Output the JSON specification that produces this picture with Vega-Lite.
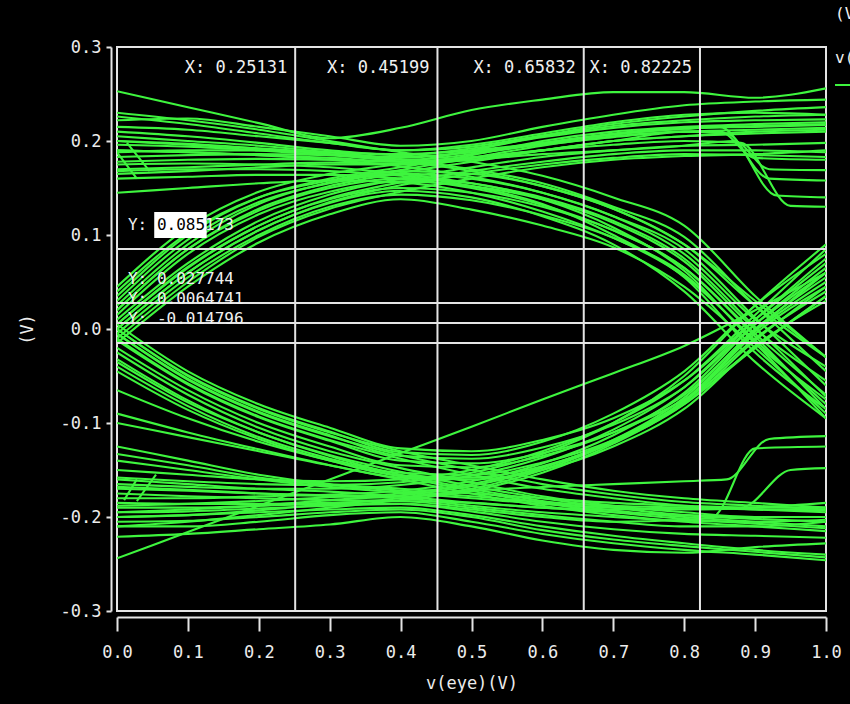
{
  "$schema": "https://vega.github.io/schema/vega-lite/v6.json",
  "width": 709,
  "height": 564,
  "autosize": {"type": "none"},
  "padding": {"left": 117, "top": 47, "right": 24, "bottom": 93},
  "background": "#000000",
  "config": {
    "view": {"stroke": "#e4e4e4", "strokeWidth": 2},
    "font": "DejaVu Sans Mono",
    "axis": {"grid": false, "domainColor": "#e4e4e4", "domainWidth": 2, "tickColor": "#e4e4e4", "tickWidth": 2, "labelColor": "#ececec", "labelFont": "DejaVu Sans Mono", "labelFontSize": 17, "titleColor": "#ececec", "titleFont": "DejaVu Sans Mono", "titleFontSize": 17, "titleFontWeight": "normal"}
  },
  "datasets": {
    "traces": [
      {"t":"A1","x":0,"y":0.253},{"t":"A1","x":0.1,"y":0.236},{"t":"A1","x":0.2,"y":0.219},{"t":"A1","x":0.3,"y":0.203},{"t":"A1","x":0.4,"y":0.214},{"t":"A1","x":0.5,"y":0.233},{"t":"A1","x":0.6,"y":0.244},{"t":"A1","x":0.7,"y":0.252},{"t":"A1","x":0.8,"y":0.252},{"t":"A1","x":0.9,"y":0.246},{"t":"A1","x":1,"y":0.256},
      {"t":"A2","x":0,"y":0.222},{"t":"A2","x":0.1,"y":0.224},{"t":"A2","x":0.2,"y":0.215},{"t":"A2","x":0.3,"y":0.205},{"t":"A2","x":0.4,"y":0.195},{"t":"A2","x":0.5,"y":0.2},{"t":"A2","x":0.6,"y":0.215},{"t":"A2","x":0.7,"y":0.228},{"t":"A2","x":0.8,"y":0.238},{"t":"A2","x":0.9,"y":0.242},{"t":"A2","x":1,"y":0.244},
      {"t":"A3","x":0,"y":0.215},{"t":"A3","x":0.1,"y":0.212},{"t":"A3","x":0.2,"y":0.205},{"t":"A3","x":0.3,"y":0.198},{"t":"A3","x":0.4,"y":0.19},{"t":"A3","x":0.5,"y":0.196},{"t":"A3","x":0.6,"y":0.208},{"t":"A3","x":0.7,"y":0.22},{"t":"A3","x":0.8,"y":0.228},{"t":"A3","x":0.9,"y":0.23},{"t":"A3","x":1,"y":0.228},
      {"t":"A4","x":0,"y":0.21},{"t":"A4","x":0.1,"y":0.205},{"t":"A4","x":0.2,"y":0.198},{"t":"A4","x":0.3,"y":0.19},{"t":"A4","x":0.4,"y":0.185},{"t":"A4","x":0.5,"y":0.192},{"t":"A4","x":0.6,"y":0.204},{"t":"A4","x":0.7,"y":0.214},{"t":"A4","x":0.8,"y":0.22},{"t":"A4","x":0.9,"y":0.222},{"t":"A4","x":1,"y":0.223},
      {"t":"A5","x":0,"y":0.2},{"t":"A5","x":0.1,"y":0.196},{"t":"A5","x":0.2,"y":0.192},{"t":"A5","x":0.3,"y":0.188},{"t":"A5","x":0.4,"y":0.182},{"t":"A5","x":0.5,"y":0.188},{"t":"A5","x":0.6,"y":0.198},{"t":"A5","x":0.7,"y":0.208},{"t":"A5","x":0.8,"y":0.214},{"t":"A5","x":0.9,"y":0.215},{"t":"A5","x":1,"y":0.217},
      {"t":"A6","x":0,"y":0.183},{"t":"A6","x":0.1,"y":0.185},{"t":"A6","x":0.2,"y":0.186},{"t":"A6","x":0.3,"y":0.185},{"t":"A6","x":0.4,"y":0.183},{"t":"A6","x":0.5,"y":0.188},{"t":"A6","x":0.6,"y":0.196},{"t":"A6","x":0.7,"y":0.204},{"t":"A6","x":0.8,"y":0.21},{"t":"A6","x":0.86,"y":0.208},{"t":"A6","x":0.93,"y":0.142},{"t":"A6","x":1,"y":0.14},
      {"t":"A7","x":0,"y":0.178},{"t":"A7","x":0.1,"y":0.18},{"t":"A7","x":0.2,"y":0.181},{"t":"A7","x":0.3,"y":0.18},{"t":"A7","x":0.4,"y":0.178},{"t":"A7","x":0.5,"y":0.183},{"t":"A7","x":0.6,"y":0.19},{"t":"A7","x":0.7,"y":0.196},{"t":"A7","x":0.8,"y":0.2},{"t":"A7","x":0.88,"y":0.198},{"t":"A7","x":0.95,"y":0.131},{"t":"A7","x":1,"y":0.13},
      {"t":"A8","x":0,"y":0.17},{"t":"A8","x":0.1,"y":0.172},{"t":"A8","x":0.2,"y":0.175},{"t":"A8","x":0.3,"y":0.177},{"t":"A8","x":0.4,"y":0.176},{"t":"A8","x":0.5,"y":0.18},{"t":"A8","x":0.6,"y":0.186},{"t":"A8","x":0.7,"y":0.19},{"t":"A8","x":0.8,"y":0.195},{"t":"A8","x":0.87,"y":0.2},{"t":"A8","x":0.92,"y":0.17},{"t":"A8","x":1,"y":0.169},
      {"t":"A9","x":0,"y":0.19},{"t":"A9","x":0.1,"y":0.188},{"t":"A9","x":0.2,"y":0.185},{"t":"A9","x":0.3,"y":0.182},{"t":"A9","x":0.4,"y":0.178},{"t":"A9","x":0.5,"y":0.182},{"t":"A9","x":0.6,"y":0.19},{"t":"A9","x":0.7,"y":0.2},{"t":"A9","x":0.8,"y":0.205},{"t":"A9","x":0.9,"y":0.21},{"t":"A9","x":1,"y":0.212},
      {"t":"A10","x":0,"y":0.165},{"t":"A10","x":0.1,"y":0.168},{"t":"A10","x":0.2,"y":0.172},{"t":"A10","x":0.3,"y":0.175},{"t":"A10","x":0.4,"y":0.175},{"t":"A10","x":0.5,"y":0.18},{"t":"A10","x":0.6,"y":0.19},{"t":"A10","x":0.7,"y":0.2},{"t":"A10","x":0.8,"y":0.21},{"t":"A10","x":0.85,"y":0.21},{"t":"A10","x":0.9,"y":0.182},{"t":"A10","x":1,"y":0.18},
      {"t":"A11","x":0,"y":0.226},{"t":"A11","x":0.1,"y":0.218},{"t":"A11","x":0.2,"y":0.208},{"t":"A11","x":0.3,"y":0.198},{"t":"A11","x":0.4,"y":0.19},{"t":"A11","x":0.5,"y":0.194},{"t":"A11","x":0.6,"y":0.206},{"t":"A11","x":0.7,"y":0.218},{"t":"A11","x":0.8,"y":0.226},{"t":"A11","x":0.9,"y":0.232},{"t":"A11","x":1,"y":0.236},
      {"t":"A12","x":0,"y":0.188},{"t":"A12","x":0.1,"y":0.19},{"t":"A12","x":0.2,"y":0.19},{"t":"A12","x":0.3,"y":0.188},{"t":"A12","x":0.4,"y":0.186},{"t":"A12","x":0.5,"y":0.19},{"t":"A12","x":0.6,"y":0.198},{"t":"A12","x":0.7,"y":0.207},{"t":"A12","x":0.8,"y":0.213},{"t":"A12","x":0.9,"y":0.216},{"t":"A12","x":1,"y":0.218},
      {"t":"A13","x":0,"y":0.196},{"t":"A13","x":0.1,"y":0.194},{"t":"A13","x":0.2,"y":0.19},{"t":"A13","x":0.3,"y":0.185},{"t":"A13","x":0.4,"y":0.18},{"t":"A13","x":0.5,"y":0.186},{"t":"A13","x":0.6,"y":0.197},{"t":"A13","x":0.7,"y":0.207},{"t":"A13","x":0.8,"y":0.213},{"t":"A13","x":0.85,"y":0.215},{"t":"A13","x":0.92,"y":0.16},{"t":"A13","x":1,"y":0.158},
      {"t":"B1","x":0,"y":0.23},{"t":"B1","x":0.1,"y":0.222},{"t":"B1","x":0.2,"y":0.212},{"t":"B1","x":0.3,"y":0.2},{"t":"B1","x":0.4,"y":0.188},{"t":"B1","x":0.5,"y":0.178},{"t":"B1","x":0.6,"y":0.163},{"t":"B1","x":0.7,"y":0.14},{"t":"B1","x":0.8,"y":0.11},{"t":"B1","x":0.9,"y":0.035},{"t":"B1","x":1,"y":-0.03},
      {"t":"B2","x":0,"y":0.205},{"t":"B2","x":0.1,"y":0.2},{"t":"B2","x":0.2,"y":0.195},{"t":"B2","x":0.3,"y":0.188},{"t":"B2","x":0.4,"y":0.18},{"t":"B2","x":0.5,"y":0.17},{"t":"B2","x":0.6,"y":0.155},{"t":"B2","x":0.7,"y":0.13},{"t":"B2","x":0.8,"y":0.098},{"t":"B2","x":0.9,"y":0.025},{"t":"B2","x":1,"y":-0.045},
      {"t":"B3","x":0,"y":0.19},{"t":"B3","x":0.1,"y":0.188},{"t":"B3","x":0.2,"y":0.185},{"t":"B3","x":0.3,"y":0.18},{"t":"B3","x":0.4,"y":0.173},{"t":"B3","x":0.5,"y":0.162},{"t":"B3","x":0.6,"y":0.145},{"t":"B3","x":0.7,"y":0.12},{"t":"B3","x":0.8,"y":0.085},{"t":"B3","x":0.9,"y":0.012},{"t":"B3","x":1,"y":-0.06},
      {"t":"B4","x":0,"y":0.175},{"t":"B4","x":0.1,"y":0.176},{"t":"B4","x":0.2,"y":0.175},{"t":"B4","x":0.3,"y":0.172},{"t":"B4","x":0.4,"y":0.165},{"t":"B4","x":0.5,"y":0.155},{"t":"B4","x":0.6,"y":0.14},{"t":"B4","x":0.7,"y":0.115},{"t":"B4","x":0.8,"y":0.075},{"t":"B4","x":0.9,"y":0.002},{"t":"B4","x":1,"y":-0.072},
      {"t":"B5","x":0,"y":0.16},{"t":"B5","x":0.1,"y":0.162},{"t":"B5","x":0.2,"y":0.164},{"t":"B5","x":0.3,"y":0.164},{"t":"B5","x":0.4,"y":0.16},{"t":"B5","x":0.5,"y":0.15},{"t":"B5","x":0.6,"y":0.132},{"t":"B5","x":0.7,"y":0.105},{"t":"B5","x":0.8,"y":0.065},{"t":"B5","x":0.9,"y":-0.008},{"t":"B5","x":1,"y":-0.085},
      {"t":"B6","x":0,"y":0.145},{"t":"B6","x":0.1,"y":0.15},{"t":"B6","x":0.2,"y":0.155},{"t":"B6","x":0.3,"y":0.158},{"t":"B6","x":0.4,"y":0.156},{"t":"B6","x":0.5,"y":0.145},{"t":"B6","x":0.6,"y":0.125},{"t":"B6","x":0.7,"y":0.097},{"t":"B6","x":0.8,"y":0.058},{"t":"B6","x":0.9,"y":-0.015},{"t":"B6","x":1,"y":-0.095},
      {"t":"B7","x":0,"y":0.2},{"t":"B7","x":0.1,"y":0.197},{"t":"B7","x":0.2,"y":0.192},{"t":"B7","x":0.3,"y":0.186},{"t":"B7","x":0.4,"y":0.178},{"t":"B7","x":0.5,"y":0.168},{"t":"B7","x":0.6,"y":0.152},{"t":"B7","x":0.7,"y":0.128},{"t":"B7","x":0.8,"y":0.09},{"t":"B7","x":0.9,"y":0.03},{"t":"B7","x":1,"y":-0.03},
      {"t":"B8","x":0,"y":0.168},{"t":"B8","x":0.1,"y":0.17},{"t":"B8","x":0.2,"y":0.17},{"t":"B8","x":0.3,"y":0.168},{"t":"B8","x":0.4,"y":0.163},{"t":"B8","x":0.5,"y":0.152},{"t":"B8","x":0.6,"y":0.133},{"t":"B8","x":0.7,"y":0.1},{"t":"B8","x":0.8,"y":0.055},{"t":"B8","x":0.9,"y":-0.025},{"t":"B8","x":1,"y":-0.085},
      {"t":"C1","x":0,"y":0.035},{"t":"C1","x":0.1,"y":0.1},{"t":"C1","x":0.2,"y":0.14},{"t":"C1","x":0.3,"y":0.16},{"t":"C1","x":0.4,"y":0.172},{"t":"C1","x":0.5,"y":0.185},{"t":"C1","x":0.6,"y":0.2},{"t":"C1","x":0.7,"y":0.21},{"t":"C1","x":0.8,"y":0.215},{"t":"C1","x":0.9,"y":0.218},{"t":"C1","x":1,"y":0.22},
      {"t":"C2","x":0,"y":0.02},{"t":"C2","x":0.1,"y":0.085},{"t":"C2","x":0.2,"y":0.128},{"t":"C2","x":0.3,"y":0.152},{"t":"C2","x":0.4,"y":0.166},{"t":"C2","x":0.5,"y":0.178},{"t":"C2","x":0.6,"y":0.19},{"t":"C2","x":0.7,"y":0.2},{"t":"C2","x":0.8,"y":0.205},{"t":"C2","x":0.9,"y":0.208},{"t":"C2","x":1,"y":0.21},
      {"t":"C3","x":0,"y":0.01},{"t":"C3","x":0.1,"y":0.07},{"t":"C3","x":0.2,"y":0.115},{"t":"C3","x":0.3,"y":0.143},{"t":"C3","x":0.4,"y":0.16},{"t":"C3","x":0.5,"y":0.172},{"t":"C3","x":0.6,"y":0.183},{"t":"C3","x":0.7,"y":0.19},{"t":"C3","x":0.8,"y":0.195},{"t":"C3","x":0.9,"y":0.196},{"t":"C3","x":1,"y":0.198},
      {"t":"C4","x":0,"y":0.0},{"t":"C4","x":0.1,"y":0.06},{"t":"C4","x":0.2,"y":0.105},{"t":"C4","x":0.3,"y":0.135},{"t":"C4","x":0.4,"y":0.153},{"t":"C4","x":0.5,"y":0.165},{"t":"C4","x":0.6,"y":0.175},{"t":"C4","x":0.7,"y":0.182},{"t":"C4","x":0.8,"y":0.186},{"t":"C4","x":0.9,"y":0.185},{"t":"C4","x":1,"y":0.183},
      {"t":"C5","x":0,"y":-0.01},{"t":"C5","x":0.1,"y":0.05},{"t":"C5","x":0.2,"y":0.098},{"t":"C5","x":0.3,"y":0.128},{"t":"C5","x":0.4,"y":0.146},{"t":"C5","x":0.5,"y":0.16},{"t":"C5","x":0.6,"y":0.172},{"t":"C5","x":0.7,"y":0.18},{"t":"C5","x":0.8,"y":0.184},{"t":"C5","x":0.9,"y":0.186},{"t":"C5","x":1,"y":0.19},
      {"t":"C6","x":0,"y":0.045},{"t":"C6","x":0.1,"y":0.108},{"t":"C6","x":0.2,"y":0.146},{"t":"C6","x":0.3,"y":0.165},{"t":"C6","x":0.4,"y":0.176},{"t":"C6","x":0.5,"y":0.19},{"t":"C6","x":0.6,"y":0.205},{"t":"C6","x":0.7,"y":0.216},{"t":"C6","x":0.8,"y":0.222},{"t":"C6","x":0.9,"y":0.226},{"t":"C6","x":1,"y":0.228},
      {"t":"C7","x":0,"y":0.025},{"t":"C7","x":0.1,"y":0.09},{"t":"C7","x":0.2,"y":0.133},{"t":"C7","x":0.3,"y":0.156},{"t":"C7","x":0.4,"y":0.169},{"t":"C7","x":0.5,"y":0.182},{"t":"C7","x":0.6,"y":0.195},{"t":"C7","x":0.7,"y":0.205},{"t":"C7","x":0.8,"y":0.21},{"t":"C7","x":0.9,"y":0.212},{"t":"C7","x":1,"y":0.214},
      {"t":"C8","x":0,"y":0.005},{"t":"C8","x":0.1,"y":0.066},{"t":"C8","x":0.2,"y":0.11},{"t":"C8","x":0.3,"y":0.139},{"t":"C8","x":0.4,"y":0.156},{"t":"C8","x":0.5,"y":0.168},{"t":"C8","x":0.6,"y":0.178},{"t":"C8","x":0.7,"y":0.186},{"t":"C8","x":0.8,"y":0.19},{"t":"C8","x":0.9,"y":0.19},{"t":"C8","x":1,"y":0.188},
      {"t":"D1","x":0,"y":0.03},{"t":"D1","x":0.1,"y":0.095},{"t":"D1","x":0.2,"y":0.135},{"t":"D1","x":0.3,"y":0.155},{"t":"D1","x":0.4,"y":0.165},{"t":"D1","x":0.5,"y":0.16},{"t":"D1","x":0.6,"y":0.145},{"t":"D1","x":0.7,"y":0.12},{"t":"D1","x":0.8,"y":0.08},{"t":"D1","x":0.9,"y":0.01},{"t":"D1","x":1,"y":-0.04},
      {"t":"D2","x":0,"y":0.015},{"t":"D2","x":0.1,"y":0.08},{"t":"D2","x":0.2,"y":0.122},{"t":"D2","x":0.3,"y":0.146},{"t":"D2","x":0.4,"y":0.157},{"t":"D2","x":0.5,"y":0.152},{"t":"D2","x":0.6,"y":0.138},{"t":"D2","x":0.7,"y":0.113},{"t":"D2","x":0.8,"y":0.072},{"t":"D2","x":0.9,"y":0.0},{"t":"D2","x":1,"y":-0.055},
      {"t":"D3","x":0,"y":0.005},{"t":"D3","x":0.1,"y":0.065},{"t":"D3","x":0.2,"y":0.11},{"t":"D3","x":0.3,"y":0.138},{"t":"D3","x":0.4,"y":0.15},{"t":"D3","x":0.5,"y":0.145},{"t":"D3","x":0.6,"y":0.13},{"t":"D3","x":0.7,"y":0.105},{"t":"D3","x":0.8,"y":0.065},{"t":"D3","x":0.9,"y":-0.005},{"t":"D3","x":1,"y":-0.07},
      {"t":"D4","x":0,"y":-0.005},{"t":"D4","x":0.1,"y":0.055},{"t":"D4","x":0.2,"y":0.1},{"t":"D4","x":0.3,"y":0.13},{"t":"D4","x":0.4,"y":0.143},{"t":"D4","x":0.5,"y":0.137},{"t":"D4","x":0.6,"y":0.121},{"t":"D4","x":0.7,"y":0.097},{"t":"D4","x":0.8,"y":0.056},{"t":"D4","x":0.9,"y":-0.012},{"t":"D4","x":1,"y":-0.08},
      {"t":"D5","x":0,"y":-0.015},{"t":"D5","x":0.1,"y":0.045},{"t":"D5","x":0.2,"y":0.092},{"t":"D5","x":0.3,"y":0.122},{"t":"D5","x":0.4,"y":0.138},{"t":"D5","x":0.5,"y":0.127},{"t":"D5","x":0.6,"y":0.11},{"t":"D5","x":0.7,"y":0.087},{"t":"D5","x":0.8,"y":0.045},{"t":"D5","x":0.9,"y":-0.02},{"t":"D5","x":1,"y":-0.09},
      {"t":"D6","x":0,"y":0.04},{"t":"D6","x":0.1,"y":0.102},{"t":"D6","x":0.2,"y":0.14},{"t":"D6","x":0.3,"y":0.158},{"t":"D6","x":0.4,"y":0.168},{"t":"D6","x":0.5,"y":0.165},{"t":"D6","x":0.6,"y":0.152},{"t":"D6","x":0.7,"y":0.128},{"t":"D6","x":0.8,"y":0.09},{"t":"D6","x":0.9,"y":0.025},{"t":"D6","x":1,"y":-0.03},
      {"t":"D7","x":0,"y":0.02},{"t":"D7","x":0.1,"y":0.085},{"t":"D7","x":0.2,"y":0.126},{"t":"D7","x":0.3,"y":0.15},{"t":"D7","x":0.4,"y":0.16},{"t":"D7","x":0.5,"y":0.155},{"t":"D7","x":0.6,"y":0.138},{"t":"D7","x":0.7,"y":0.108},{"t":"D7","x":0.8,"y":0.062},{"t":"D7","x":0.9,"y":-0.015},{"t":"D7","x":1,"y":-0.075},
      {"t":"D8","x":0,"y":0.0},{"t":"D8","x":0.1,"y":0.06},{"t":"D8","x":0.2,"y":0.105},{"t":"D8","x":0.3,"y":0.134},{"t":"D8","x":0.4,"y":0.147},{"t":"D8","x":0.5,"y":0.14},{"t":"D8","x":0.6,"y":0.12},{"t":"D8","x":0.7,"y":0.09},{"t":"D8","x":0.8,"y":0.04},{"t":"D8","x":0.9,"y":-0.035},{"t":"D8","x":1,"y":-0.095},
      {"t":"E1","x":0,"y":0.0},{"t":"E1","x":0.1,"y":-0.05},{"t":"E1","x":0.2,"y":-0.085},{"t":"E1","x":0.3,"y":-0.11},{"t":"E1","x":0.4,"y":-0.13},{"t":"E1","x":0.5,"y":-0.145},{"t":"E1","x":0.6,"y":-0.16},{"t":"E1","x":0.7,"y":-0.172},{"t":"E1","x":0.8,"y":-0.18},{"t":"E1","x":0.9,"y":-0.185},{"t":"E1","x":1,"y":-0.19},
      {"t":"E2","x":0,"y":-0.01},{"t":"E2","x":0.1,"y":-0.058},{"t":"E2","x":0.2,"y":-0.093},{"t":"E2","x":0.3,"y":-0.118},{"t":"E2","x":0.4,"y":-0.138},{"t":"E2","x":0.5,"y":-0.155},{"t":"E2","x":0.6,"y":-0.17},{"t":"E2","x":0.7,"y":-0.18},{"t":"E2","x":0.8,"y":-0.188},{"t":"E2","x":0.9,"y":-0.192},{"t":"E2","x":1,"y":-0.195},
      {"t":"E3","x":0,"y":-0.025},{"t":"E3","x":0.1,"y":-0.07},{"t":"E3","x":0.2,"y":-0.105},{"t":"E3","x":0.3,"y":-0.13},{"t":"E3","x":0.4,"y":-0.148},{"t":"E3","x":0.5,"y":-0.163},{"t":"E3","x":0.6,"y":-0.178},{"t":"E3","x":0.7,"y":-0.188},{"t":"E3","x":0.8,"y":-0.195},{"t":"E3","x":0.9,"y":-0.2},{"t":"E3","x":1,"y":-0.2},
      {"t":"E4","x":0,"y":-0.04},{"t":"E4","x":0.1,"y":-0.082},{"t":"E4","x":0.2,"y":-0.115},{"t":"E4","x":0.3,"y":-0.138},{"t":"E4","x":0.4,"y":-0.155},{"t":"E4","x":0.5,"y":-0.17},{"t":"E4","x":0.6,"y":-0.183},{"t":"E4","x":0.7,"y":-0.193},{"t":"E4","x":0.8,"y":-0.2},{"t":"E4","x":0.9,"y":-0.205},{"t":"E4","x":1,"y":-0.21},
      {"t":"E5","x":0,"y":-0.09},{"t":"E5","x":0.1,"y":-0.11},{"t":"E5","x":0.2,"y":-0.128},{"t":"E5","x":0.3,"y":-0.145},{"t":"E5","x":0.4,"y":-0.16},{"t":"E5","x":0.5,"y":-0.175},{"t":"E5","x":0.6,"y":-0.188},{"t":"E5","x":0.7,"y":-0.198},{"t":"E5","x":0.8,"y":-0.205},{"t":"E5","x":0.9,"y":-0.21},{"t":"E5","x":1,"y":-0.215},
      {"t":"E6","x":0,"y":-0.005},{"t":"E6","x":0.1,"y":-0.054},{"t":"E6","x":0.2,"y":-0.089},{"t":"E6","x":0.3,"y":-0.114},{"t":"E6","x":0.4,"y":-0.134},{"t":"E6","x":0.5,"y":-0.15},{"t":"E6","x":0.6,"y":-0.165},{"t":"E6","x":0.7,"y":-0.176},{"t":"E6","x":0.8,"y":-0.184},{"t":"E6","x":0.9,"y":-0.188},{"t":"E6","x":1,"y":-0.192},
      {"t":"E7","x":0,"y":-0.032},{"t":"E7","x":0.1,"y":-0.076},{"t":"E7","x":0.2,"y":-0.11},{"t":"E7","x":0.3,"y":-0.134},{"t":"E7","x":0.4,"y":-0.152},{"t":"E7","x":0.5,"y":-0.167},{"t":"E7","x":0.6,"y":-0.18},{"t":"E7","x":0.7,"y":-0.19},{"t":"E7","x":0.8,"y":-0.198},{"t":"E7","x":0.9,"y":-0.202},{"t":"E7","x":1,"y":-0.205},
      {"t":"E8","x":0,"y":-0.065},{"t":"E8","x":0.1,"y":-0.095},{"t":"E8","x":0.2,"y":-0.12},{"t":"E8","x":0.3,"y":-0.14},{"t":"E8","x":0.4,"y":-0.157},{"t":"E8","x":0.5,"y":-0.172},{"t":"E8","x":0.6,"y":-0.185},{"t":"E8","x":0.7,"y":-0.195},{"t":"E8","x":0.8,"y":-0.202},{"t":"E8","x":0.9,"y":-0.207},{"t":"E8","x":1,"y":-0.212},
      {"t":"F1","x":0,"y":0.005},{"t":"F1","x":0.1,"y":-0.045},{"t":"F1","x":0.2,"y":-0.08},{"t":"F1","x":0.3,"y":-0.105},{"t":"F1","x":0.4,"y":-0.127},{"t":"F1","x":0.5,"y":-0.13},{"t":"F1","x":0.6,"y":-0.118},{"t":"F1","x":0.7,"y":-0.095},{"t":"F1","x":0.8,"y":-0.055},{"t":"F1","x":0.9,"y":0.01},{"t":"F1","x":1,"y":0.07},
      {"t":"F2","x":0,"y":-0.005},{"t":"F2","x":0.1,"y":-0.053},{"t":"F2","x":0.2,"y":-0.088},{"t":"F2","x":0.3,"y":-0.113},{"t":"F2","x":0.4,"y":-0.135},{"t":"F2","x":0.5,"y":-0.138},{"t":"F2","x":0.6,"y":-0.126},{"t":"F2","x":0.7,"y":-0.102},{"t":"F2","x":0.8,"y":-0.062},{"t":"F2","x":0.9,"y":0.005},{"t":"F2","x":1,"y":0.06},
      {"t":"F3","x":0,"y":-0.02},{"t":"F3","x":0.1,"y":-0.065},{"t":"F3","x":0.2,"y":-0.1},{"t":"F3","x":0.3,"y":-0.125},{"t":"F3","x":0.4,"y":-0.145},{"t":"F3","x":0.5,"y":-0.147},{"t":"F3","x":0.6,"y":-0.135},{"t":"F3","x":0.7,"y":-0.11},{"t":"F3","x":0.8,"y":-0.07},{"t":"F3","x":0.9,"y":-0.002},{"t":"F3","x":1,"y":0.05},
      {"t":"F4","x":0,"y":-0.035},{"t":"F4","x":0.1,"y":-0.078},{"t":"F4","x":0.2,"y":-0.11},{"t":"F4","x":0.3,"y":-0.135},{"t":"F4","x":0.4,"y":-0.153},{"t":"F4","x":0.5,"y":-0.155},{"t":"F4","x":0.6,"y":-0.142},{"t":"F4","x":0.7,"y":-0.118},{"t":"F4","x":0.8,"y":-0.077},{"t":"F4","x":0.9,"y":-0.01},{"t":"F4","x":1,"y":0.04},
      {"t":"F5","x":0,"y":-0.1},{"t":"F5","x":0.1,"y":-0.115},{"t":"F5","x":0.2,"y":-0.13},{"t":"F5","x":0.3,"y":-0.145},{"t":"F5","x":0.4,"y":-0.158},{"t":"F5","x":0.5,"y":-0.16},{"t":"F5","x":0.6,"y":-0.15},{"t":"F5","x":0.7,"y":-0.125},{"t":"F5","x":0.8,"y":-0.085},{"t":"F5","x":0.9,"y":-0.018},{"t":"F5","x":1,"y":0.03},
      {"t":"F6","x":0,"y":0.0},{"t":"F6","x":0.1,"y":-0.049},{"t":"F6","x":0.2,"y":-0.084},{"t":"F6","x":0.3,"y":-0.109},{"t":"F6","x":0.4,"y":-0.131},{"t":"F6","x":0.5,"y":-0.134},{"t":"F6","x":0.6,"y":-0.12},{"t":"F6","x":0.7,"y":-0.09},{"t":"F6","x":0.8,"y":-0.045},{"t":"F6","x":0.9,"y":0.025},{"t":"F6","x":1,"y":0.08},
      {"t":"F7","x":0,"y":-0.012},{"t":"F7","x":0.1,"y":-0.059},{"t":"F7","x":0.2,"y":-0.094},{"t":"F7","x":0.3,"y":-0.119},{"t":"F7","x":0.4,"y":-0.14},{"t":"F7","x":0.5,"y":-0.143},{"t":"F7","x":0.6,"y":-0.132},{"t":"F7","x":0.7,"y":-0.11},{"t":"F7","x":0.8,"y":-0.075},{"t":"F7","x":0.9,"y":-0.02},{"t":"F7","x":1,"y":0.035},
      {"t":"F8","x":0,"y":-0.045},{"t":"F8","x":0.1,"y":-0.086},{"t":"F8","x":0.2,"y":-0.117},{"t":"F8","x":0.3,"y":-0.14},{"t":"F8","x":0.4,"y":-0.156},{"t":"F8","x":0.5,"y":-0.158},{"t":"F8","x":0.6,"y":-0.146},{"t":"F8","x":0.7,"y":-0.12},{"t":"F8","x":0.8,"y":-0.08},{"t":"F8","x":0.9,"y":-0.012},{"t":"F8","x":1,"y":0.045},
      {"t":"G1","x":0,"y":-0.125},{"t":"G1","x":0.1,"y":-0.14},{"t":"G1","x":0.2,"y":-0.155},{"t":"G1","x":0.3,"y":-0.165},{"t":"G1","x":0.4,"y":-0.17},{"t":"G1","x":0.5,"y":-0.175},{"t":"G1","x":0.6,"y":-0.18},{"t":"G1","x":0.7,"y":-0.185},{"t":"G1","x":0.8,"y":-0.188},{"t":"G1","x":0.9,"y":-0.19},{"t":"G1","x":1,"y":-0.19},
      {"t":"G2","x":0,"y":-0.14},{"t":"G2","x":0.1,"y":-0.15},{"t":"G2","x":0.2,"y":-0.16},{"t":"G2","x":0.3,"y":-0.168},{"t":"G2","x":0.4,"y":-0.174},{"t":"G2","x":0.5,"y":-0.18},{"t":"G2","x":0.6,"y":-0.186},{"t":"G2","x":0.7,"y":-0.19},{"t":"G2","x":0.8,"y":-0.192},{"t":"G2","x":0.9,"y":-0.19},{"t":"G2","x":1,"y":-0.185},
      {"t":"G3","x":0,"y":-0.16},{"t":"G3","x":0.1,"y":-0.165},{"t":"G3","x":0.2,"y":-0.17},{"t":"G3","x":0.3,"y":-0.173},{"t":"G3","x":0.4,"y":-0.178},{"t":"G3","x":0.5,"y":-0.185},{"t":"G3","x":0.6,"y":-0.19},{"t":"G3","x":0.7,"y":-0.195},{"t":"G3","x":0.8,"y":-0.198},{"t":"G3","x":0.9,"y":-0.2},{"t":"G3","x":1,"y":-0.2},
      {"t":"G4","x":0,"y":-0.175},{"t":"G4","x":0.1,"y":-0.178},{"t":"G4","x":0.2,"y":-0.18},{"t":"G4","x":0.3,"y":-0.182},{"t":"G4","x":0.4,"y":-0.183},{"t":"G4","x":0.5,"y":-0.19},{"t":"G4","x":0.6,"y":-0.198},{"t":"G4","x":0.7,"y":-0.205},{"t":"G4","x":0.8,"y":-0.21},{"t":"G4","x":0.9,"y":-0.21},{"t":"G4","x":1,"y":-0.205},
      {"t":"G5","x":0,"y":-0.19},{"t":"G5","x":0.1,"y":-0.19},{"t":"G5","x":0.2,"y":-0.188},{"t":"G5","x":0.3,"y":-0.186},{"t":"G5","x":0.4,"y":-0.186},{"t":"G5","x":0.5,"y":-0.194},{"t":"G5","x":0.6,"y":-0.205},{"t":"G5","x":0.7,"y":-0.213},{"t":"G5","x":0.8,"y":-0.218},{"t":"G5","x":0.9,"y":-0.22},{"t":"G5","x":1,"y":-0.222},
      {"t":"G6","x":0,"y":-0.2},{"t":"G6","x":0.1,"y":-0.198},{"t":"G6","x":0.2,"y":-0.195},{"t":"G6","x":0.3,"y":-0.192},{"t":"G6","x":0.4,"y":-0.19},{"t":"G6","x":0.5,"y":-0.198},{"t":"G6","x":0.6,"y":-0.21},{"t":"G6","x":0.7,"y":-0.22},{"t":"G6","x":0.8,"y":-0.228},{"t":"G6","x":0.9,"y":-0.235},{"t":"G6","x":1,"y":-0.24},
      {"t":"G7","x":0,"y":-0.21},{"t":"G7","x":0.1,"y":-0.21},{"t":"G7","x":0.2,"y":-0.205},{"t":"G7","x":0.3,"y":-0.198},{"t":"G7","x":0.4,"y":-0.195},{"t":"G7","x":0.5,"y":-0.205},{"t":"G7","x":0.6,"y":-0.218},{"t":"G7","x":0.7,"y":-0.228},{"t":"G7","x":0.8,"y":-0.235},{"t":"G7","x":0.9,"y":-0.24},{"t":"G7","x":1,"y":-0.246},
      {"t":"G8","x":0,"y":-0.221},{"t":"G8","x":0.1,"y":-0.218},{"t":"G8","x":0.2,"y":-0.213},{"t":"G8","x":0.3,"y":-0.208},{"t":"G8","x":0.4,"y":-0.2},{"t":"G8","x":0.5,"y":-0.21},{"t":"G8","x":0.6,"y":-0.225},{"t":"G8","x":0.7,"y":-0.235},{"t":"G8","x":0.8,"y":-0.238},{"t":"G8","x":0.9,"y":-0.232},{"t":"G8","x":1,"y":-0.228},
      {"t":"G9","x":0,"y":-0.17},{"t":"G9","x":0.1,"y":-0.172},{"t":"G9","x":0.2,"y":-0.175},{"t":"G9","x":0.3,"y":-0.177},{"t":"G9","x":0.4,"y":-0.178},{"t":"G9","x":0.5,"y":-0.172},{"t":"G9","x":0.6,"y":-0.168},{"t":"G9","x":0.7,"y":-0.165},{"t":"G9","x":0.8,"y":-0.162},{"t":"G9","x":0.86,"y":-0.16},{"t":"G9","x":0.92,"y":-0.117},{"t":"G9","x":1,"y":-0.114},
      {"t":"G10","x":0,"y":-0.185},{"t":"G10","x":0.1,"y":-0.186},{"t":"G10","x":0.2,"y":-0.186},{"t":"G10","x":0.3,"y":-0.185},{"t":"G10","x":0.4,"y":-0.183},{"t":"G10","x":0.5,"y":-0.185},{"t":"G10","x":0.6,"y":-0.19},{"t":"G10","x":0.7,"y":-0.192},{"t":"G10","x":0.8,"y":-0.19},{"t":"G10","x":0.88,"y":-0.19},{"t":"G10","x":0.95,"y":-0.15},{"t":"G10","x":1,"y":-0.148},
      {"t":"G11","x":0,"y":-0.133},{"t":"G11","x":0.1,"y":-0.145},{"t":"G11","x":0.2,"y":-0.158},{"t":"G11","x":0.3,"y":-0.166},{"t":"G11","x":0.4,"y":-0.172},{"t":"G11","x":0.5,"y":-0.178},{"t":"G11","x":0.6,"y":-0.184},{"t":"G11","x":0.7,"y":-0.188},{"t":"G11","x":0.8,"y":-0.19},{"t":"G11","x":0.9,"y":-0.192},{"t":"G11","x":1,"y":-0.193},
      {"t":"G12","x":0,"y":-0.168},{"t":"G12","x":0.1,"y":-0.171},{"t":"G12","x":0.2,"y":-0.175},{"t":"G12","x":0.3,"y":-0.178},{"t":"G12","x":0.4,"y":-0.18},{"t":"G12","x":0.5,"y":-0.188},{"t":"G12","x":0.6,"y":-0.195},{"t":"G12","x":0.7,"y":-0.2},{"t":"G12","x":0.8,"y":-0.204},{"t":"G12","x":0.9,"y":-0.205},{"t":"G12","x":1,"y":-0.203},
      {"t":"G13","x":0,"y":-0.205},{"t":"G13","x":0.1,"y":-0.204},{"t":"G13","x":0.2,"y":-0.2},{"t":"G13","x":0.3,"y":-0.195},{"t":"G13","x":0.4,"y":-0.192},{"t":"G13","x":0.5,"y":-0.2},{"t":"G13","x":0.6,"y":-0.214},{"t":"G13","x":0.7,"y":-0.224},{"t":"G13","x":0.8,"y":-0.231},{"t":"G13","x":0.9,"y":-0.237},{"t":"G13","x":1,"y":-0.243},
      {"t":"G14","x":0,"y":-0.195},{"t":"G14","x":0.1,"y":-0.194},{"t":"G14","x":0.2,"y":-0.191},{"t":"G14","x":0.3,"y":-0.188},{"t":"G14","x":0.4,"y":-0.186},{"t":"G14","x":0.5,"y":-0.192},{"t":"G14","x":0.6,"y":-0.2},{"t":"G14","x":0.7,"y":-0.205},{"t":"G14","x":0.8,"y":-0.203},{"t":"G14","x":0.84,"y":-0.2},{"t":"G14","x":0.9,"y":-0.127},{"t":"G14","x":1,"y":-0.125},
      {"t":"H1","x":0,"y":-0.244},{"t":"H1","x":0.1,"y":-0.216},{"t":"H1","x":0.2,"y":-0.188},{"t":"H1","x":0.3,"y":-0.16},{"t":"H1","x":0.4,"y":-0.132},{"t":"H1","x":0.5,"y":-0.104},{"t":"H1","x":0.6,"y":-0.075},{"t":"H1","x":0.7,"y":-0.047},{"t":"H1","x":0.8,"y":-0.018},{"t":"H1","x":0.9,"y":0.02},{"t":"H1","x":1,"y":0.06},
      {"t":"H2","x":0,"y":-0.15},{"t":"H2","x":0.1,"y":-0.155},{"t":"H2","x":0.2,"y":-0.16},{"t":"H2","x":0.3,"y":-0.162},{"t":"H2","x":0.4,"y":-0.16},{"t":"H2","x":0.5,"y":-0.15},{"t":"H2","x":0.6,"y":-0.13},{"t":"H2","x":0.7,"y":-0.1},{"t":"H2","x":0.8,"y":-0.055},{"t":"H2","x":0.9,"y":0.015},{"t":"H2","x":1,"y":0.085},
      {"t":"H3","x":0,"y":-0.165},{"t":"H3","x":0.1,"y":-0.168},{"t":"H3","x":0.2,"y":-0.17},{"t":"H3","x":0.3,"y":-0.17},{"t":"H3","x":0.4,"y":-0.166},{"t":"H3","x":0.5,"y":-0.156},{"t":"H3","x":0.6,"y":-0.137},{"t":"H3","x":0.7,"y":-0.107},{"t":"H3","x":0.8,"y":-0.062},{"t":"H3","x":0.9,"y":0.01},{"t":"H3","x":1,"y":0.075},
      {"t":"H4","x":0,"y":-0.18},{"t":"H4","x":0.1,"y":-0.18},{"t":"H4","x":0.2,"y":-0.178},{"t":"H4","x":0.3,"y":-0.176},{"t":"H4","x":0.4,"y":-0.172},{"t":"H4","x":0.5,"y":-0.162},{"t":"H4","x":0.6,"y":-0.143},{"t":"H4","x":0.7,"y":-0.113},{"t":"H4","x":0.8,"y":-0.068},{"t":"H4","x":0.9,"y":0.005},{"t":"H4","x":1,"y":0.065},
      {"t":"H5","x":0,"y":-0.195},{"t":"H5","x":0.1,"y":-0.192},{"t":"H5","x":0.2,"y":-0.188},{"t":"H5","x":0.3,"y":-0.182},{"t":"H5","x":0.4,"y":-0.177},{"t":"H5","x":0.5,"y":-0.167},{"t":"H5","x":0.6,"y":-0.148},{"t":"H5","x":0.7,"y":-0.118},{"t":"H5","x":0.8,"y":-0.073},{"t":"H5","x":0.9,"y":0.0},{"t":"H5","x":1,"y":0.055},
      {"t":"H6","x":0,"y":-0.21},{"t":"H6","x":0.1,"y":-0.205},{"t":"H6","x":0.2,"y":-0.198},{"t":"H6","x":0.3,"y":-0.19},{"t":"H6","x":0.4,"y":-0.182},{"t":"H6","x":0.5,"y":-0.172},{"t":"H6","x":0.6,"y":-0.153},{"t":"H6","x":0.7,"y":-0.122},{"t":"H6","x":0.8,"y":-0.078},{"t":"H6","x":0.9,"y":-0.005},{"t":"H6","x":1,"y":0.045},
      {"t":"H7","x":0,"y":-0.158},{"t":"H7","x":0.1,"y":-0.162},{"t":"H7","x":0.2,"y":-0.165},{"t":"H7","x":0.3,"y":-0.166},{"t":"H7","x":0.4,"y":-0.163},{"t":"H7","x":0.5,"y":-0.153},{"t":"H7","x":0.6,"y":-0.133},{"t":"H7","x":0.7,"y":-0.1},{"t":"H7","x":0.8,"y":-0.05},{"t":"H7","x":0.9,"y":0.025},{"t":"H7","x":1,"y":0.09},
      {"t":"H8","x":0,"y":-0.188},{"t":"H8","x":0.1,"y":-0.186},{"t":"H8","x":0.2,"y":-0.183},{"t":"H8","x":0.3,"y":-0.179},{"t":"H8","x":0.4,"y":-0.175},{"t":"H8","x":0.5,"y":-0.165},{"t":"H8","x":0.6,"y":-0.147},{"t":"H8","x":0.7,"y":-0.12},{"t":"H8","x":0.8,"y":-0.08},{"t":"H8","x":0.9,"y":-0.02},{"t":"H8","x":1,"y":0.035},
      {"t":"H9","x":0,"y":-0.2},{"t":"H9","x":0.1,"y":-0.198},{"t":"H9","x":0.2,"y":-0.193},{"t":"H9","x":0.3,"y":-0.186},{"t":"H9","x":0.4,"y":-0.18},{"t":"H9","x":0.5,"y":-0.17},{"t":"H9","x":0.6,"y":-0.15},{"t":"H9","x":0.7,"y":-0.12},{"t":"H9","x":0.8,"y":-0.076},{"t":"H9","x":0.9,"y":-0.002},{"t":"H9","x":1,"y":0.06},
      {"t":"S1","x":0,"y":0.188},{"t":"S1","x":0.028,"y":0.16},
      {"t":"S2","x":0.014,"y":0.198},{"t":"S2","x":0.046,"y":0.168},
      {"t":"S3","x":0.01,"y":-0.182},{"t":"S3","x":0.028,"y":-0.16},
      {"t":"S4","x":0.028,"y":-0.183},{"t":"S4","x":0.055,"y":-0.155}
    ],
    "vcur": [
      {"x": 0.25131, "lab": "X: 0.25131"},
      {"x": 0.45199, "lab": "X: 0.45199"},
      {"x": 0.65832, "lab": "X: 0.65832"},
      {"x": 0.82225, "lab": "X: 0.82225"}
    ],
    "hcur": [
      {"y": 0.085173, "lab": "Y: 0.085173"},
      {"y": 0.027744, "lab": "Y: 0.027744"},
      {"y": 0.0064741, "lab": "Y: 0.0064741"},
      {"y": -0.014796, "lab": "Y: -0.014796"}
    ]
  },
  "layer": [
    {
      "data": {"name": "traces"},
      "mark": {"type": "line", "interpolate": "monotone", "color": "#3ef53e", "strokeWidth": 2.1, "clip": true},
      "encoding": {
        "x": {"field": "x", "type": "quantitative", "scale": {"domain": [0, 1], "nice": false, "zero": false},
          "axis": {"values": [0, 0.1, 0.2, 0.3, 0.4, 0.5, 0.6, 0.7, 0.8, 0.9, 1.0], "format": ".1f", "title": "v(eye)(V)", "offset": 6, "tickSize": 14, "labelPadding": 13, "titlePadding": 15, "labelFlush": false}},
        "y": {"field": "y", "type": "quantitative", "scale": {"domain": [-0.3, 0.3], "nice": false, "zero": false},
          "axis": {"values": [-0.3, -0.2, -0.1, 0, 0.1, 0.2, 0.3], "format": ".1f", "labelExpr": "replace(datum.label, '\u2212', '-')", "title": "(V)", "offset": 6, "tickSize": 5, "labelPadding": 5, "titlePadding": 24, "labelFlush": false}},
        "detail": {"field": "t"}
      }
    },
    {
      "data": {"name": "vcur"},
      "mark": {"type": "rule", "color": "#e4e4e4", "strokeWidth": 2},
      "encoding": {"x": {"field": "x", "type": "quantitative"}}
    },
    {
      "data": {"name": "hcur"},
      "mark": {"type": "rule", "color": "#e4e4e4", "strokeWidth": 2},
      "encoding": {"y": {"field": "y", "type": "quantitative"}}
    },
    {
      "data": {"name": "vcur"},
      "mark": {"type": "text", "align": "right", "baseline": "middle", "dx": -8, "color": "#f0f0f0", "font": "DejaVu Sans Mono", "fontSize": 17},
      "encoding": {"x": {"field": "x", "type": "quantitative"}, "y": {"datum": 0.278}, "text": {"field": "lab"}}
    },
    {
      "data": {"name": "hcur"},
      "mark": {"type": "text", "align": "left", "baseline": "middle", "dy": -24, "color": "#f0f0f0", "font": "DejaVu Sans Mono", "fontSize": 16},
      "encoding": {"x": {"datum": 0.0155}, "y": {"field": "y", "type": "quantitative"}, "text": {"field": "lab"}}
    },
    {
      "data": {"values": [{"a": 1}]},
      "mark": {"type": "rect", "color": "#ffffff"},
      "encoding": {"x": {"datum": 0.0525}, "x2": {"datum": 0.1265}, "y": {"datum": 0.1245}, "y2": {"datum": 0.0968}}
    },
    {
      "data": {"values": [{"lab": "0.085", "y": 0.085173}]},
      "mark": {"type": "text", "align": "left", "baseline": "middle", "dy": -24, "color": "#000000", "font": "DejaVu Sans Mono", "fontSize": 16},
      "encoding": {"x": {"datum": 0.0563}, "y": {"field": "y", "type": "quantitative"}, "text": {"field": "lab"}}
    },
    {
      "data": {"values": [{"lab": "(V)", "x": 1.0127, "y": 0.335}, {"lab": "v(eye)", "x": 1.0127, "y": 0.288}]},
      "mark": {"type": "text", "align": "left", "baseline": "middle", "color": "#f0f0f0", "font": "DejaVu Sans Mono", "fontSize": 16},
      "encoding": {"x": {"field": "x", "type": "quantitative"}, "y": {"field": "y", "type": "quantitative"}, "text": {"field": "lab"}}
    },
    {
      "data": {"values": [{"x": 1.0127, "x2": 1.045, "y": 0.2596}]},
      "mark": {"type": "rule", "color": "#3ef53e", "strokeWidth": 2},
      "encoding": {"x": {"field": "x", "type": "quantitative"}, "x2": {"field": "x2"}, "y": {"field": "y", "type": "quantitative"}}
    }
  ]
}
